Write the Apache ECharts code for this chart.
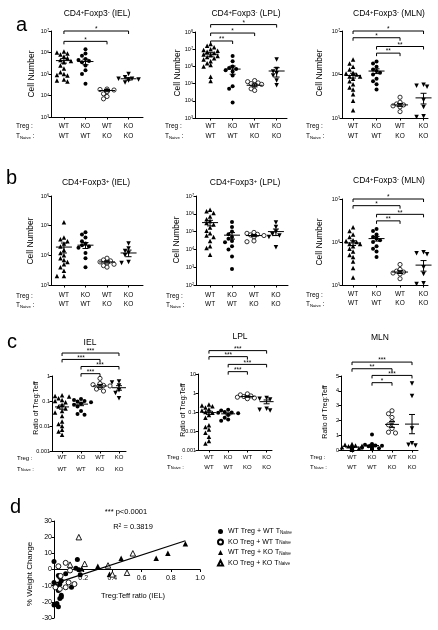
<!DOCTYPE html>
<html>
<head>
<meta charset="utf-8">
<script src="https://cdn.jsdelivr.net/npm/echarts@6.0.0/dist/echarts.min.js"></script>
<style>
html,body{margin:0;padding:0;background:#fff;}
#chart{width:438px;height:630px;}
</style>
</head>
<body>
<div id="chart"></div>
<script>
// ---------- category labels ----------
const TREG = ['WT','KO','WT','KO'];
const TNAIVE = ['WT','WT','KO','KO'];

// ---------- a1: CD4+Foxp3- (IEL) ----------
const a1_g1 = [1.1e6,1.0e6,9e5,8e5,6.5e5,5.5e5,4.5e5,4e5,3.5e5,2.5e5,1.8e5,1.2e5,1.0e5,9e4,8.5e4,5.5e4,5e4,4.5e4];
const a1_g2 = [1.4e6,9e5,7e5,5e5,4.5e5,4e5,3.5e5,2.5e5,1.5e5,1.0e5,3.5e4];
const a1_g3 = [2e4,1.9e4,1.8e4,1.7e4,1.5e4,1.2e4,9e3,7e3];
const a1_g4 = [1e5,7e4,6e4,6e4,5.5e4,5e4,4e4];
const a1_mean = [4.2e5,3.8e5,1.7e4,6e4];
const a1_sem = [1.0e5,1.1e5,2e3,8e3];
const a1_sig = [[0,3,1e7,'*'],[0,2,3.3e6,'*']];

// ---------- a2: CD4+Foxp3- (LPL) ----------
const a2_g1 = [2e7,1.6e7,1.3e7,1e7,9e6,8e6,7e6,6e6,5e6,4.5e6,4e6,3.5e6,3e6,2.5e6,2e6,1.5e6,1.2e6,1e6,2.5e5,1.4e5];
const a2_g2 = [4e6,2e6,1e6,8e5,7e5,6e5,5e5,3e5,7e4,5e4,8e3];
const a2_g3 = [1.5e5,1.3e5,1.1e5,1e5,9e4,8e4,5e4,4e4];
const a2_g4 = [2.5e6,7e5,5e5,4e5,3e5,1.5e5,8e4];
const a2_mean = [5.1e6,7e5,8e4,5.4e5];
const a2_sem = [1.2e6,3.5e5,1.5e4,3e5];
const a2_sig = [[0,3,2.7e8,'*'],[0,2,8.7e7,'*'],[0,1,3e7,'**']];

// ---------- a3: CD4+Foxp3- (MLN) ----------
const a3_g1 = [2.2e6,1.8e6,1.5e6,1.3e6,1.1e6,1.05e6,1e6,9e5,9e5,8e5,7e5,6e5,5e5,4.5e5,3.5e5,2.5e5,1.5e5];
const a3_g2 = [2e6,1.8e6,1.5e6,1.3e6,1.2e6,1.1e6,1e6,8e5,7e5,6e5,4.5e5];
const a3_g3 = [3e5,2.3e5,2.1e5,2e5,1.9e5,1.8e5,1.4e5];
const a3_g4 = [5.8e5,5.5e5,5.2e5,2.6e5,1.8e5,1.1e5,1.05e5];
const a3_mean = [9.5e5,1.2e6,2e5,2.9e5];
const a3_sem = [1.2e5,1.5e5,1.5e4,8e4];
const a3_sig = [[0,3,1e7,'*'],[0,2,7e6,'*'],[1,3,4.4e6,'**'],[1,2,3.1e6,'**']];

// ---------- b1: CD4+Foxp3+ (IEL) ----------
const b1_g1 = [1.3e5,4e4,3.5e4,3e4,2.5e4,2e4,1.5e4,1.2e4,1e4,8e3,7e3,6e3,5e3,4e3,3e3,2e3,2e3];
const b1_g2 = [6e4,5e4,4e4,3e4,2.5e4,2.2e4,2e4,1.8e4,1.2e4,8e3,4e3];
const b1_g3 = [8e3,7e3,6.5e3,6e3,5.5e3,5e3,4.5e3,4e3];
const b1_g4 = [2.5e4,1.7e4,1.4e4,1.2e4,1e4,6e3,5.5e3];
const b1_mean = [1.9e4,2.2e4,6e3,1.2e4];
const b1_sem = [7e3,5e3,5e2,3e3];

// ---------- b2: CD4+Foxp3+ (LPL) ----------
const b2_g1 = [1.7e6,1.4e6,1.1e6,7e5,5e5,4e5,3e5,2.5e5,1.7e5,1.1e5,8e4,6e4,5e4,3e4,1.5e4,1.2e4,5e3];
const b2_g2 = [3.5e5,1.8e5,1e5,7e4,5e4,4e4,3e4,2.5e4,1.5e4,1e4,4e3,8e2];
const b2_g3 = [9e4,8e4,7e4,6.5e4,6e4,5e4,3e4,2.7e4];
const b2_g4 = [3.2e5,1.8e5,1e5,7e4,6e4,5e4,1.3e4];
const b2_mean = [3.2e5,6.3e4,6e4,1e5];
const b2_sem = [1.1e5,2.5e4,8e3,4e4];

// ---------- b3: CD4+Foxp3- (MLN) (repeat of a3) ----------
const b3_g1 = [2.2e6,1.8e6,1.5e6,1.3e6,1.1e6,1.05e6,1e6,9e5,9e5,8e5,7e5,6e5,5e5,4.5e5,3.5e5,2.5e5,1.5e5];
const b3_g2 = [2e6,1.8e6,1.5e6,1.3e6,1.2e6,1.1e6,1e6,8e5,7e5,6e5,4.5e5];
const b3_g3 = [3e5,2.3e5,2.1e5,2e5,1.9e5,1.8e5,1.4e5];
const b3_g4 = [5.8e5,5.5e5,5.2e5,2.6e5,1.8e5,1.1e5,1.05e5];
const b3_mean = [9.5e5,1.2e6,2e5,2.9e5];
const b3_sem = [1.2e5,1.5e5,1.5e4,8e4];
const b3_sig = [[0,3,1e7,'*'],[0,2,7e6,'*'],[1,3,4.4e6,'**'],[1,2,3.1e6,'**']];

// ---------- c1: ratio IEL ----------
const c1_g1 = [0.17,0.16,0.15,0.13,0.11,0.1,0.09,0.07,0.06,0.05,0.04,0.035,0.025,0.015,0.012,0.01,0.007,0.006,0.0045];
const c1_g2 = [0.12,0.11,0.1,0.095,0.09,0.08,0.07,0.06,0.04,0.03,0.028];
const c1_g3 = [0.8,0.5,0.45,0.42,0.4,0.35,0.3,0.25];
const c1_g4 = [0.6,0.55,0.42,0.27,0.21,0.13];
const c1_mean = [0.058,0.075,0.4,0.34];
const c1_sem = [0.011,0.01,0.06,0.07];
const c1_sig = [[0,3,8.3,'***'],[0,2,4.6,'***'],[1,3,2.4,'***'],[1,2,1.24,'***']];

// ---------- c2: ratio LPL ----------
const c2_g1 = [0.25,0.22,0.2,0.17,0.14,0.12,0.1,0.09,0.07,0.05,0.02,0.016,0.012,0.008,0.005,0.003,0.0022];
const c2_g2 = [0.13,0.12,0.1,0.095,0.09,0.085,0.07,0.05,0.04,0.035];
const c2_g3 = [0.9,0.8,0.7,0.65,0.6,0.55,0.5];
const c2_g4 = [0.55,0.5,0.45,0.15,0.13,0.12];
const c2_mean = [0.093,0.08,0.65,0.35];
const c2_sem = [0.018,0.01,0.05,0.08];
const c2_sig = [[0,3,170,'***'],[0,2,82,'***'],[1,3,32,'***'],[1,2,13.3,'***']];

// ---------- c3: ratio MLN ----------
const c3_g1 = [0.4,0.35,0.3,0.28,0.25,0.22,0.2,0.18,0.15,0.13,0.12,0.1,0.08,0.06,0.05,0.04,0.03];
const c3_g2 = [1.05,0.4,0.35,0.3,0.28,0.25,0.2,0.15,0.12,0.1,0.05];
const c3_g3 = [2.65,2.45,2.2,1.9,1.7,1.45,1.2,1.15];
const c3_g4 = [4.5,3.65,1.45,0.45,0.35,0.3];
const c3_mean = [0.2,0.3,1.73,1.75];
const c3_sem = [0.03,0.08,0.2,0.65];
const c3_sig = [[0,3,5.94,'***'],[0,2,5.49,'**'],[1,3,5.04,'***'],[1,2,4.55,'*']];

// ---------- d: weight change vs ratio ----------
const d_names = ['WT Treg + WT TNaive','KO Treg + WT TNaive','WT Treg + KO TNaive','KO Treg + KO TNaive'];
const d_wtwt = [[0.0,5],[0.03,-3.7],[0.04,-4.8],[0.16,6.2],[0.15,0.8],[0.17,-0.2],[0.18,-3.3],[0.08,-2.7],[0.01,-10],[0.02,-11],[0.03,-13],[0.05,-16],[0.04,-18],[0.02,-21],[0.03,-23],[0.0,-22],[0.12,-11],[0.04,-9],[0.05,-7],[0.0,-8],[0.05,-17]];
const d_kowt = [[0.03,2],[0.08,4.1],[0.11,-0.6],[0.045,-4],[0.1,-8],[0.08,-11],[0.04,-12],[0.14,-9],[0.01,-11]];
const d_wtko = [[0.9,16],[0.78,10],[0.7,7],[0.46,7],[0.3,2],[0.38,-3],[0.19,0.4]];
const d_koko = [[0.17,20],[0.54,10],[0.37,2.5],[0.4,-3],[0.5,-2],[0.21,3.5],[0.11,3]];
const d_fit = [[0,-8.7],[0.9,17.8]];

// ================= rendering =================
const FF = '"Liberation Sans", Arial, Helvetica, sans-serif';
const RICH = s => ({
  s:{fontSize:s*0.68, verticalAlign:'top', fontFamily:FF, fill:'#000', color:'#000'},
  b:{fontSize:s*0.65, verticalAlign:'bottom', fontFamily:FF, fill:'#000', color:'#000'}
});

const PLOTS = [
  {g:[a1_g1,a1_g2,a1_g3,a1_g4], mean:a1_mean, sem:a1_sem, sig:a1_sig, grid:[51,31,92,86], xr:[-0.6,3.67], log:true, yr:[1e3,1e7], lm:4, lh:10, fs:6.5},
  {g:[a2_g1,a2_g2,a2_g3,a2_g4], mean:a2_mean, sem:a2_sem, sig:a2_sig, grid:[195,32,92,86], xr:[-0.71,3.47], log:true, yr:[1e3,1e8], lm:3, lh:10, fs:6.5},
  {g:[a3_g1,a3_g2,a3_g3,a3_g4], mean:a3_mean, sem:a3_sem, sig:a3_sig, grid:[342,31,86,87], xr:[-0.47,3.19], log:true, yr:[1e5,1e7], lm:3, lh:10, fs:6.5},
  {g:[b1_g1,b1_g2,b1_g3,b1_g4], mean:b1_mean, sem:b1_sem, sig:[], grid:[51,196,92,89], xr:[-0.6,3.67], log:true, yr:[1e3,1e6], lm:6, lh:9, fs:6.5},
  {g:[b2_g1,b2_g2,b2_g3,b2_g4], mean:b2_mean, sem:b2_sem, sig:[], grid:[196,196,92,89], xr:[-0.64,3.55], log:true, yr:[1e2,1e7], lm:6, lh:9, fs:6.5},
  {g:[b3_g1,b3_g2,b3_g3,b3_g4], mean:b3_mean, sem:b3_sem, sig:b3_sig, grid:[342,199,86,86], xr:[-0.47,3.19], log:true, yr:[1e5,1e7], lm:5, lh:9, fs:6.5},
  {g:[c1_g1,c1_g2,c1_g3,c1_g4], mean:c1_mean, sem:c1_sem, sig:c1_sig, grid:[52,376,74,75], xr:[-0.53,3.37], log:true, yr:[1e-3,1], lm:1, lh:11.5, fs:6},
  {g:[c2_g1,c2_g2,c2_g3,c2_g4], mean:c2_mean, sem:c2_sem, sig:c2_sig, grid:[198,374,74,76], xr:[-0.57,3.28], log:true, yr:[1e-3,10], lm:2, lh:10, fs:6},
  {g:[c3_g1,c3_g2,c3_g3,c3_g4], mean:c3_mean, sem:c3_sem, sig:c3_sig, grid:[341,376,77,74], xr:[-0.55,3.3], log:false, yr:[0,5], lm:2, lh:10, fs:6}
];

const GSTYLE = [
  {symbol:'triangle', size:4.5, rot:0, fill:'#000'},
  {symbol:'circle', size:4, rot:0, fill:'#000'},
  {symbol:'circle', size:4.2, rot:0, fill:'#fff'},
  {symbol:'triangle', size:4.5, rot:180, fill:'#000'}
];

function jitter(vals, p) {
  const h = p.grid[3];
  const toPx = v => p.log
    ? (Math.log10(v)-Math.log10(p.yr[0]))/(Math.log10(p.yr[1])-Math.log10(p.yr[0]))*h
    : (v-p.yr[0])/(p.yr[1]-p.yr[0])*h;
  const placed = [];
  const cands = [0,-3.5,3.5,-7,7,-10,10];
  return vals.map(v => {
    const y = toPx(v);
    for (const dx of cands) {
      if (placed.every(q => Math.hypot(q[0]-dx, q[1]-y) >= 3.8)) { placed.push([dx,y]); return dx; }
    }
    placed.push([0,y]); return 0;
  });
}

const grids = [], xAxes = [], yAxes = [], series = [];
const axisLineStyle = {color:'#000', width:1};

PLOTS.forEach((p, k) => {
  grids.push({left:p.grid[0], top:p.grid[1], width:p.grid[2], height:p.grid[3]});
  xAxes.push({
    type:'value', gridIndex:k, min:p.xr[0], max:p.xr[1],
    axisLine:{show:true, onZero:false, lineStyle:axisLineStyle},
    axisTick:{show:true, customValues:[0,1,2,3], length:2.5, lineStyle:axisLineStyle},
    axisLabel:{show:true, customValues:[0,1,2,3], formatter: v => TREG[Math.round(v)] + '\n' + TNAIVE[Math.round(v)],
      fontSize:p.fs, lineHeight:p.lh, margin:p.lm, color:'#000', fontFamily:FF},
    splitLine:{show:false}
  });
  const yax = {
    gridIndex:k, min:p.yr[0], max:p.yr[1],
    axisLine:{show:true, onZero:false, lineStyle:axisLineStyle},
    axisTick:{show:true, length:2.5, lineStyle:axisLineStyle},
    axisLabel:{fontSize:5.5, margin:2, color:'#000', fontFamily:FF, rich:RICH(5.5)},
    splitLine:{show:false}, minorTick:{show:false}
  };
  if (p.log) {
    yax.type = 'log'; yax.logBase = 10;
    if (p.yr[1] <= 10) yax.axisLabel.formatter = v => String(Math.pow(10, Math.round(Math.log10(v))));
    else yax.axisLabel.formatter = v => '10{s|' + Math.round(Math.log10(v)) + '}';
  } else {
    yax.type = 'value'; yax.interval = 1;
  }
  yAxes.push(yax);

  const half = p.grid[2] < 80 ? 7 : 8;
  p.g.forEach((vals, gi) => {
    const st = GSTYLE[gi];
    const offs = jitter(vals, p);
    series.push({
      type:'scatter', xAxisIndex:k, yAxisIndex:k, clip:false, silent:true, z:2,
      symbol:st.symbol, symbolSize:st.size, symbolRotate:st.rot,
      itemStyle:{color:st.fill, borderColor:'#000', borderWidth: st.fill === '#fff' ? 0.8 : 0, opacity:1},
      data: vals.map((v,i) => ({value:[gi, v], symbolOffset:[offs[i], 0]}))
    });
  });
  // mean +/- SEM
  series.push({
    type:'custom', xAxisIndex:k, yAxisIndex:k, clip:false, silent:true, z:4,
    data: p.mean.map((m,i) => [i, m, p.sem[i]]), encode:{x:0, y:1},
    renderItem: (params, api) => {
      const x = api.value(0), m = api.value(1), s = api.value(2);
      const c = api.coord([x,m]), hi = api.coord([x,m+s]), lo = api.coord([x,m-s]);
      const st = {stroke:'#000', lineWidth:1};
      return {type:'group', children:[
        {type:'line', shape:{x1:c[0]-half, y1:c[1], x2:c[0]+half, y2:c[1]}, style:st},
        {type:'line', shape:{x1:c[0], y1:hi[1], x2:c[0], y2:lo[1]}, style:st},
        {type:'line', shape:{x1:c[0]-3, y1:hi[1], x2:c[0]+3, y2:hi[1]}, style:st},
        {type:'line', shape:{x1:c[0]-3, y1:lo[1], x2:c[0]+3, y2:lo[1]}, style:st}
      ]};
    }
  });
  // significance brackets
  if (p.sig.length) {
    series.push({
      type:'custom', xAxisIndex:k, yAxisIndex:k, clip:false, silent:true, z:4,
      data: p.sig.map(s => [s[0], s[2], s[1]]), encode:{x:0, y:1},
      renderItem: (params, api) => {
        const p1 = api.coord([api.value(0), api.value(1)]);
        const p2 = api.coord([api.value(2), api.value(1)]);
        const lab = p.sig[params.dataIndex][3];
        return {type:'group', children:[
          {type:'polyline', shape:{points:[[p1[0],p1[1]+3],[p1[0],p1[1]],[p2[0],p1[1]],[p2[0],p1[1]+3]]},
            style:{stroke:'#000', lineWidth:1, fill:null}},
          {type:'text', x:(p1[0]+p2[0])/2, y:p1[1]+2,
            style:{text:lab, fontSize:6.5, fontFamily:FF, fill:'#000', align:'center', verticalAlign:'bottom'}}
        ]};
      }
    });
  }
});

// ----- panel d -----
const kd = PLOTS.length;
const dGrid = {left:54, top:521, width:146, height:97};
grids.push(dGrid);
xAxes.push({
  type:'value', gridIndex:kd, min:0, max:1, interval:0.2,
  // x axis crosses the y axis at 0 (middle of the symmetric -30..30 range)
  offset: -dGrid.height/2,
  axisLine:{show:true, onZero:false, lineStyle:axisLineStyle},
  axisTick:{show:true, length:2.5, lineStyle:axisLineStyle},
  axisLabel:{fontSize:7, margin:5, color:'#000', fontFamily:FF, formatter: v => v === 0 ? '' : v.toFixed(1)},
  splitLine:{show:false}
});
yAxes.push({
  type:'value', gridIndex:kd, min:-30, max:30, interval:10,
  axisLine:{show:true, onZero:false, lineStyle:axisLineStyle},
  axisTick:{show:true, length:2.5, lineStyle:axisLineStyle},
  axisLabel:{fontSize:7, margin:2, color:'#000', fontFamily:FF},
  splitLine:{show:false}
});
const DSTYLE = [
  {symbol:'circle', size:5, fill:'#000'},
  {symbol:'circle', size:5, fill:'#fff'},
  {symbol:'triangle', size:5.5, fill:'#000'},
  {symbol:'triangle', size:5.5, fill:'#fff'}
];
[d_wtwt, d_kowt, d_wtko, d_koko].forEach((arr, i) => {
  const st = DSTYLE[i];
  series.push({
    type:'scatter', name:d_names[i], xAxisIndex:kd, yAxisIndex:kd, clip:false, silent:true, z:2,
    symbol:st.symbol, symbolSize:st.size,
    itemStyle:{color:st.fill, borderColor:'#000', borderWidth: st.fill === '#fff' ? 0.9 : 0, opacity:1},
    data: arr
  });
});
series.push({
  type:'line', xAxisIndex:kd, yAxisIndex:kd, data:d_fit, symbol:'none', silent:true, z:3,
  lineStyle:{color:'#000', width:1.2}
});

// ----- text elements -----
function txt(x, y, text, size, opts) {
  opts = opts || {};
  return {type:'text', x:x, y:y, rotation:opts.rot || 0, silent:true, z:10,
    style:{text:text, fontSize:size, fontFamily:FF, fill:'#000', align:opts.align || 'center',
      verticalAlign:opts.va || 'middle', rich:RICH(size)}};
}
const G = [];
// panel letters
G.push(txt(16,25,'a',20,{align:'left'}));
G.push(txt(6,178,'b',20,{align:'left'}));
G.push(txt(7,342,'c',20,{align:'left'}));
G.push(txt(10,507,'d',20,{align:'left'}));
// titles
G.push(txt(97,14,'CD4{s|+}Foxp3{s|-} (IEL)',8.5));
G.push(txt(246,14,'CD4{s|+}Foxp3{s|-} (LPL)',8.5));
G.push(txt(389,14,'CD4{s|+}Foxp3{s|-} (MLN)',8.5));
G.push(txt(96,183,'CD4{s|+}Foxp3{s|+} (IEL)',8.5));
G.push(txt(245,183,'CD4{s|+}Foxp3{s|+} (LPL)',8.5));
G.push(txt(389,181,'CD4{s|+}Foxp3{s|-} (MLN)',8.5));
G.push(txt(90,343,'IEL',8.5));
G.push(txt(240,337,'LPL',8.5));
G.push(txt(380,338,'MLN',8.5));
// y axis names
const R = Math.PI/2;
G.push(txt(32,74,'Cell Number',8.5,{rot:R}));
G.push(txt(178,73,'Cell Number',8.5,{rot:R}));
G.push(txt(320,73,'Cell Number',8.5,{rot:R}));
G.push(txt(31,241,'Cell Number',8.5,{rot:R}));
G.push(txt(177,240,'Cell Number',8.5,{rot:R}));
G.push(txt(320,242,'Cell Number',8.5,{rot:R}));
G.push(txt(36,408,'Ratio of Treg:Teff',7,{rot:R}));
G.push(txt(183,410,'Ratio of Treg:Teff',7,{rot:R}));
G.push(txt(325,412,'Ratio of Treg:Teff',7,{rot:R}));
G.push(txt(30,574,'% Weight Change',8,{rot:R}));
// row headers
const ROWS = [[16,126,136,6.5],[165,126,136,6.5],[306,126,136,6.5],[16,296,305,6.5],[166,296,305,6.5],[306,295,304,6.5],[17,458,469,6],[167,457,467,6],[310,457,467,6]];
ROWS.forEach(r => {
  G.push(txt(r[0], r[1], 'Treg :', r[3], {align:'left'}));
  G.push(txt(r[0], r[2], 'T{b|Naive} :', r[3], {align:'left'}));
});
// panel d annotations
G.push(txt(126,512,'*** p<0.0001',7.5));
G.push(txt(133,527,'R{s|2} = 0.3819',7.5));
G.push(txt(133,596,'Treg:Teff ratio (IEL)',7.5));

const option = {
  animation:false,
  backgroundColor:'#fff',
  textStyle:{fontFamily:FF, color:'#000'},
  grid:grids, xAxis:xAxes, yAxis:yAxes, series:series,
  legend:{
    data:d_names, orient:'vertical', left:212, top:523, itemWidth:5, itemHeight:5, itemGap:3.5, itemTextGap:9,
    selectedMode:false, inactiveColor:'#000',
    textStyle:{fontSize:7, color:'#000', fontFamily:FF, rich:RICH(7)},
    formatter: n => n.replace('TNaive','T{b|Naive}')
  },
  graphic:G
};
const chart = echarts.init(document.getElementById('chart'), null, {renderer:'canvas'});
chart.setOption(option);
</script>
</body>
</html>
